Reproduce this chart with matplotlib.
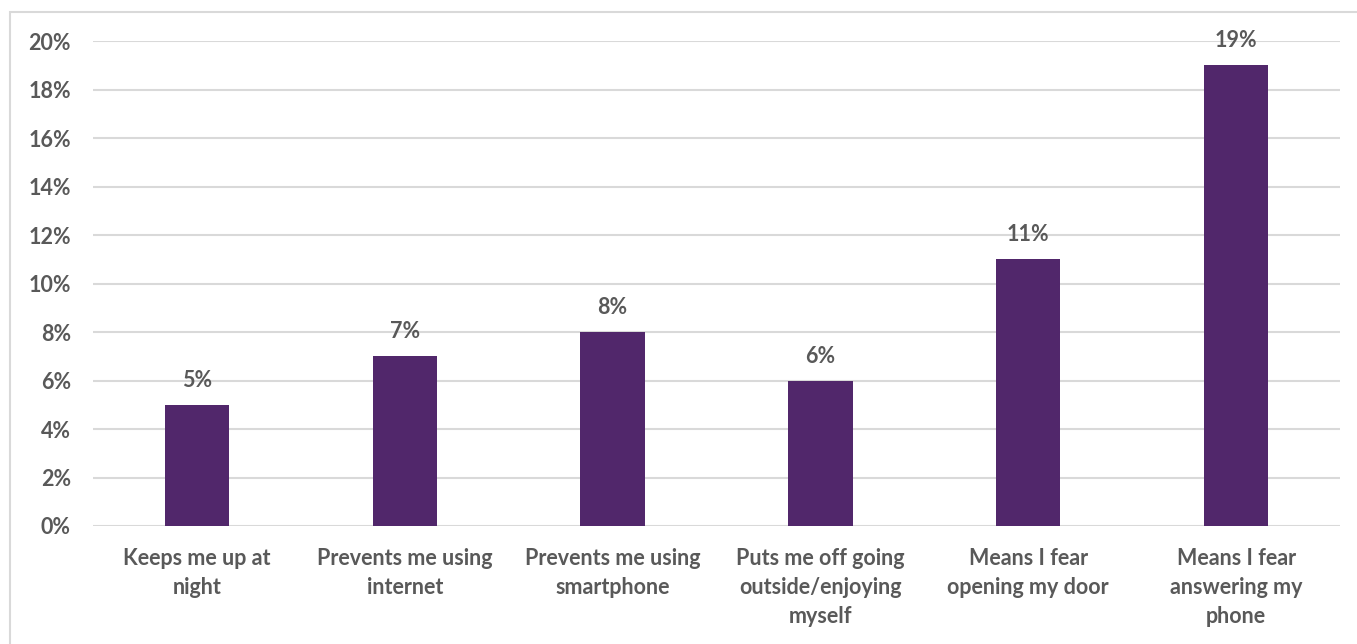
import matplotlib.pyplot as plt
from matplotlib.patches import Rectangle
from matplotlib.ticker import PercentFormatter

categories = [
    "Keeps me up at\nnight",
    "Prevents me using\ninternet",
    "Prevents me using\nsmartphone",
    "Puts me off going\noutside/enjoying\nmyself",
    "Means I fear\nopening my door",
    "Means I fear\nanswering my\nphone",
]
values = [5, 7, 8, 6, 11, 19]
yticks = [0, 2, 4, 6, 8, 10, 12, 14, 16, 18, 20]

BAR_COLOR = "#51276B"
TEXT_COLOR = "#595959"
GRID_COLOR = "#D9D9D9"
FS = 15.5

plt.rcParams["font.family"] = ["Lato", "DejaVu Sans"]

fig = plt.figure(figsize=(13.57, 6.44), dpi=100)
ax = fig.add_axes([93 / 1357, 1 - 526 / 644, 1247 / 1357, 485 / 644])

# light frame around the whole chart
fig.patches.append(Rectangle((10 / 1357, -0.05), 1.2, 1 - 12 / 644 + 0.05,
                             transform=fig.transFigure, fill=False,
                             edgecolor=GRID_COLOR, linewidth=1.5))

x = range(len(categories))
bars = ax.bar(x, values, width=0.31, color=BAR_COLOR, zorder=3)
ax.bar_label(bars, labels=[f"{v}%" for v in values], padding=10,
             fontsize=FS, fontweight="bold", color=TEXT_COLOR)

ax.set_xlim(-0.5, len(categories) - 0.5)
ax.set_ylim(0, 20)
ax.set_yticks(yticks)
ax.yaxis.set_major_formatter(PercentFormatter(decimals=0))
ax.set_xticks(list(x))
ax.set_xticklabels(categories, linespacing=1.47)

ax.tick_params(axis="y", length=0, pad=16, labelsize=FS, labelcolor=TEXT_COLOR)
ax.tick_params(axis="x", length=0, pad=16, labelsize=FS, labelcolor=TEXT_COLOR)
for lbl in ax.get_xticklabels():
    lbl.set_fontweight("bold")
    lbl.set_verticalalignment("top")
for lbl in ax.get_yticklabels():
    lbl.set_fontweight("bold")
    lbl.set_verticalalignment("center_baseline")

ax.yaxis.grid(True, color=GRID_COLOR, linewidth=1.5, zorder=0)
ax.set_axisbelow(True)
for s in ax.spines.values():
    s.set_visible(False)

fig.savefig("out.png", dpi=100)
